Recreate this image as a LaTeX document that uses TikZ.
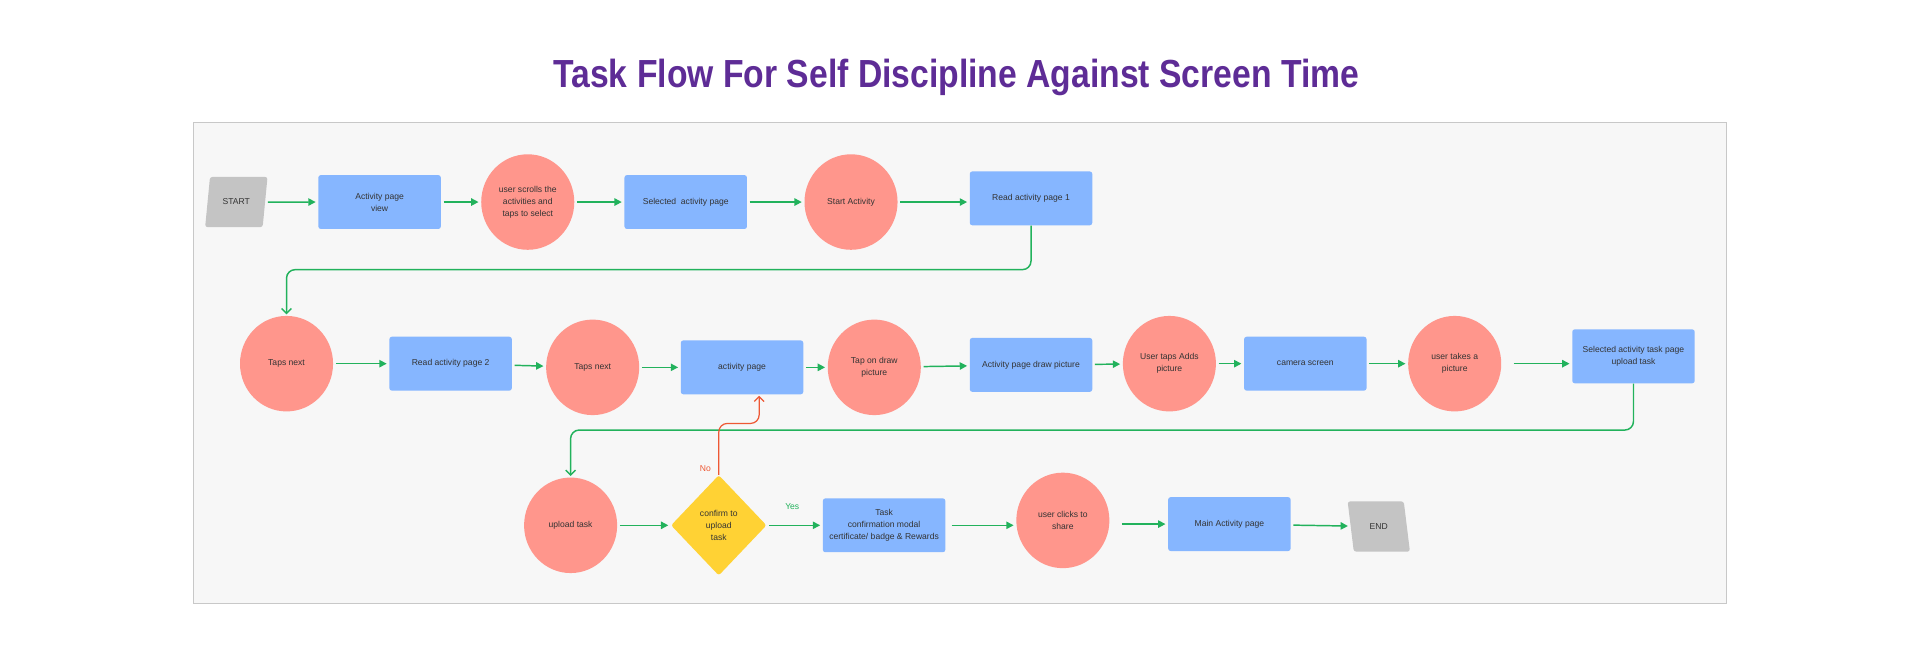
\documentclass[tikz,border=0pt]{standalone}
\usepackage{fontspec}
\setmainfont{Liberation Sans}
\newfontfamily\titulofont[FakeStretch=0.86]{Liberation Sans}
\usepackage{tikz}
\usetikzlibrary{shapes.geometric, arrows.meta, positioning}

\definecolor{azulcaja}{RGB}{134,182,255}
\definecolor{rosacirc}{RGB}{255,150,140}
\definecolor{amarillo}{RGB}{255,210,52}
\definecolor{grisparal}{RGB}{196,196,196}
\definecolor{verdeflecha}{RGB}{34,178,92}
\definecolor{rojoflecha}{RGB}{238,88,52}
\definecolor{morado}{RGB}{94,44,150}
\definecolor{textogris}{RGB}{51,51,51}
\definecolor{fondopanel}{RGB}{247,247,247}
\definecolor{bordepanel}{RGB}{200,200,200}

\begin{document}
\begin{tikzpicture}[x=1pt, y=-1pt,
        caja/.style={rectangle, rounded corners=2pt, fill=azulcaja, minimum width=100pt, minimum height=44pt, align=center, inner sep=2pt},
        circulo/.style={ellipse, fill=rosacirc, minimum width=76pt, minimum height=78pt, align=center, inner sep=1pt},
        decision/.style={diamond, fill=amarillo, rounded corners=2pt, minimum width=78pt, minimum height=82pt, align=center, inner sep=0pt},
        extremo/.style={trapezium, fill=grisparal, rounded corners=2pt, trapezium stretches=true, minimum width=51pt, minimum height=41pt},
        flecha/.style={verdeflecha, line width=1.2pt, -{Triangle[length=6pt,width=6pt]}, shorten >=2pt, shorten <=2pt},
        vuelta/.style={verdeflecha, line width=1.2pt, rounded corners=7pt, -{Straight Barb[length=4pt,width=8pt]}, shorten >=1pt},
        every node/.style={font=\fontsize{7}{9.7}\selectfont, text=textogris}
    ]
        % Marco de la página
        \useasboundingbox (0,0) rectangle (1568,540);

        % Título
        \node[font=\titulofont\bfseries\fontsize{32}{36}\selectfont, text=morado] (titulo) at (781,63) {Task Flow For Self Discipline Against Screen Time};

        % Panel de fondo
        \draw[bordepanel, fill=fondopanel, line width=1.2pt] (158,100) rectangle (1410,493);

        % Fila 1
        \node[extremo, trapezium left angle=77, trapezium right angle=103] (inicio) at (193,165) {START};
        \node[caja] (vista) at (310,165) {Activity page\\view};
        \node[circulo] (desliza) at (431,165) {user scrolls the\\activities and\\taps to select};
        \node[caja] (selec) at (560,165) {Selected\ \ activity page};
        \node[circulo] (inicioact) at (695,165) {Start Activity};
        \node[caja] (lee1) at (842,162) {Read activity page 1};

        % Fila 2
        \node[circulo] (toca1) at (234,297) {Taps next};
        \node[caja] (lee2) at (368,297) {Read activity page 2};
        \node[circulo] (toca2) at (484,300) {Taps next};
        \node[caja] (actpag) at (606,300) {activity page};
        \node[circulo] (tocadib) at (714,300) {Tap on draw\\picture};
        \node[caja] (dibujo) at (842,298) {Activity page draw picture};
        \node[circulo] (agrega) at (955,297) {User taps Adds\\picture};
        \node[caja] (camara) at (1066,297) {camera screen};
        \node[circulo] (foto) at (1188,297) {user takes a\\picture};
        \node[caja] (subirpag) at (1334,291) {Selected activity task page\\upload task};

        % Fila 3
        \node[circulo] (subir) at (466,429) {upload task};
        \node[decision] (confirma) at (587,429) {confirm to\\upload\\task};
        \node[caja] (modal) at (722,429) {Task\\confirmation modal\\certificate/ badge \& Rewards};
        \node[circulo] (comparte) at (868,425) {user clicks to\\share};
        \node[caja] (principal) at (1004,428) {Main Activity page};
        \node[extremo, trapezium left angle=103, trapezium right angle=77] (fin) at (1126,430) {END};

        % Etiquetas de la decisión
        \node[text=rojoflecha] (no) at (576,383) {No};
        \node[text=verdeflecha] (si) at (647,414) {Yes};

        % Flechas fila 1
        \draw[flecha] (inicio) -- (vista);
        \draw[flecha] (vista) -- (desliza);
        \draw[flecha] (desliza) -- (selec);
        \draw[flecha] (selec) -- (inicioact);
        \draw[flecha] (inicioact) -- (inicioact -| lee1.west);

        % Flechas fila 2
        \draw[flecha] (toca1) -- (lee2);
        \draw[flecha] (lee2) -- (toca2);
        \draw[flecha] (toca2) -- (actpag);
        \draw[flecha] (actpag) -- (tocadib);
        \draw[flecha] (tocadib) -- (dibujo);
        \draw[flecha] (dibujo) -- (agrega);
        \draw[flecha] (agrega) -- (camara);
        \draw[flecha] (camara) -- (foto);
        \draw[flecha, shorten <=10pt] (foto) -- (foto -| subirpag.west);

        % Flechas fila 3
        \draw[flecha] (subir) -- (confirma);
        \draw[flecha] (confirma) -- (modal);
        \draw[flecha, shorten <=5pt] (modal) -- (modal -| comparte.west);
        \draw[flecha, shorten <=10pt] (principal -| comparte.east) -- (principal);
        \draw[flecha] (principal) -- (fin);

        % Saltos entre filas
        \draw[vuelta] (lee1.south) -- ++(0,36) -| (toca1.north);
        \draw[vuelta] (subirpag.south) -- ++(0,38) -| (subir.north);
        \draw[vuelta, rojoflecha, line width=1pt] (confirma.north) -- ++(0,-42) -| ([xshift=14pt]actpag.south);
    \end{tikzpicture}
\end{document}
